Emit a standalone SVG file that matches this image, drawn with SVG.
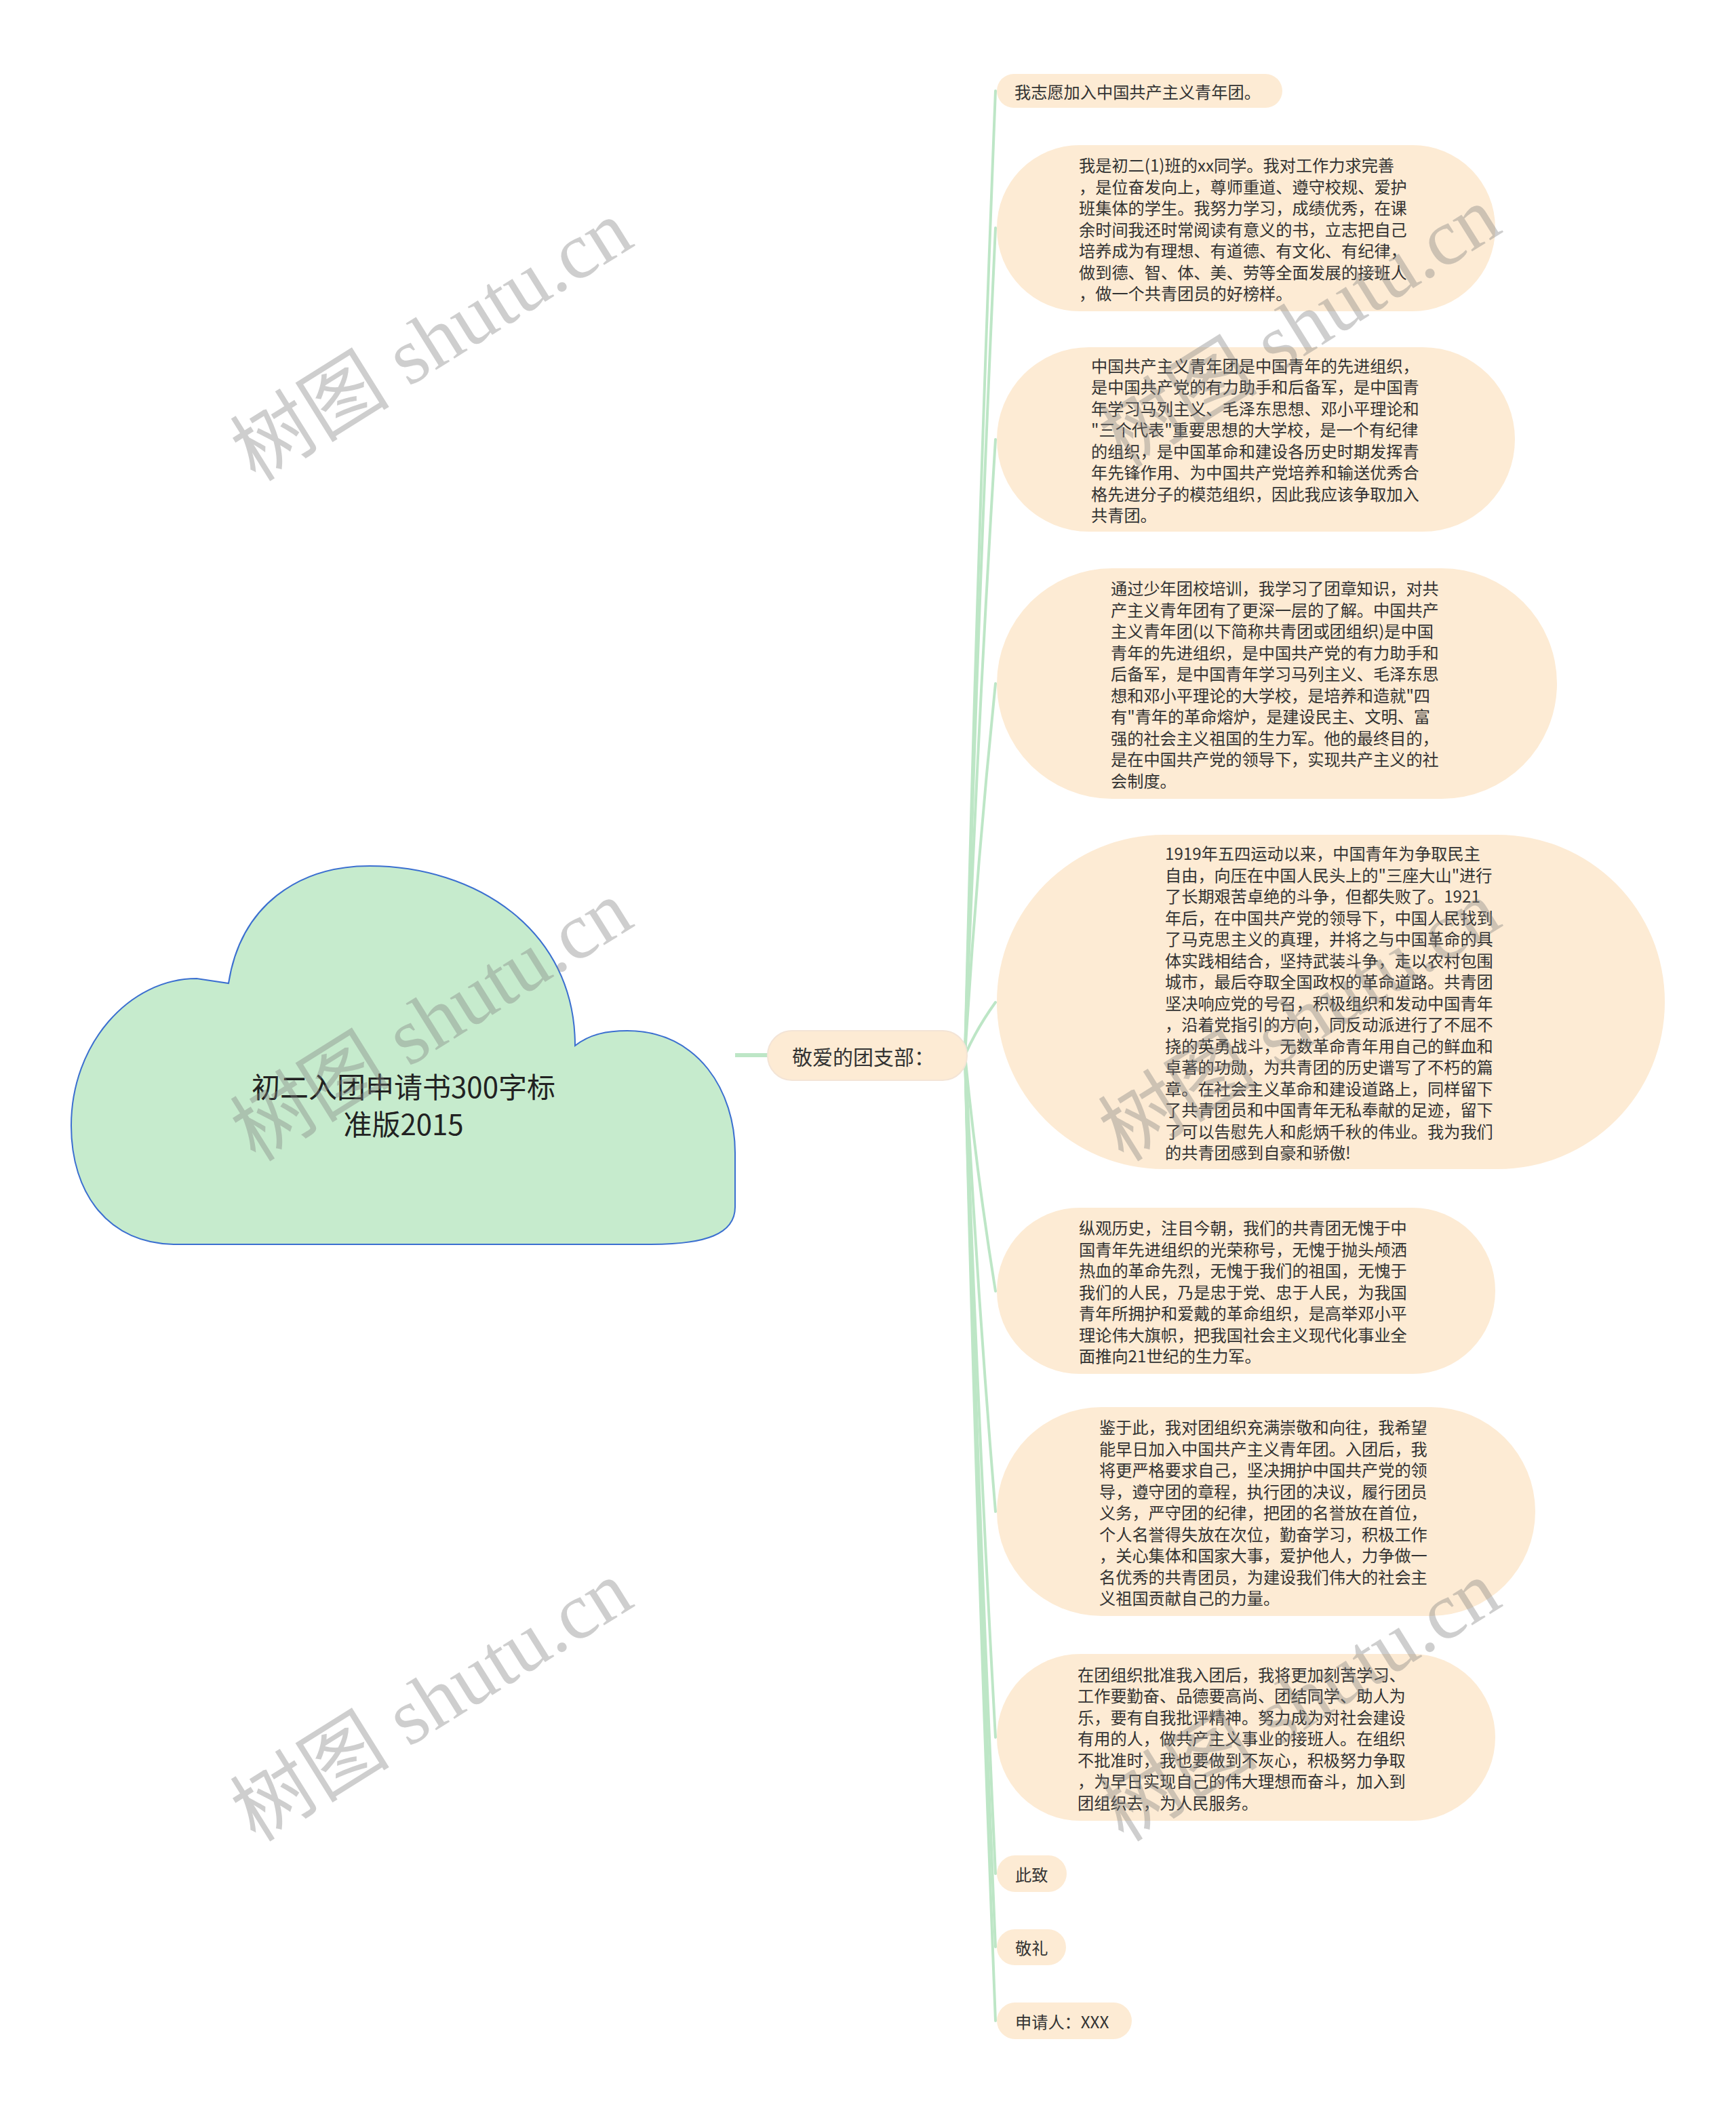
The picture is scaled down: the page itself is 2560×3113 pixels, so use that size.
<svg xmlns="http://www.w3.org/2000/svg" width="2560" height="3113" viewBox="0 0 2560 3113">
<style>
.n{fill:#fdebd4}
.t{font-family:"Noto Sans CJK SC","Noto Sans",sans-serif;font-size:24.2px;fill:#333}
.c{fill:none;stroke:#bde6c6;stroke-width:4;stroke-linecap:round}
.wm{font-family:"Liberation Serif","Noto Sans CJK SC",serif;font-size:118px;fill:#808080;opacity:0.38}
</style>
<rect width="2560" height="3113" fill="#fff"/>
<g id="connectors">
<path d="M1084 1556 L1132 1556" stroke="#bde6c6" stroke-width="6" fill="none"/>
<path class="c" d="M1423 1556 Q1440 845 1468 134"/>
<path class="c" d="M1423 1556 Q1440 946 1468 336"/>
<path class="c" d="M1423 1556 Q1440 1102 1468 648"/>
<path class="c" d="M1423 1556 Q1440 1282 1468 1008"/>
<path class="c" d="M1423 1556 Q1440 1517 1468 1478"/>
<path class="c" d="M1423 1556 Q1440 1730 1468 1904"/>
<path class="c" d="M1423 1556 Q1440 1892 1468 2229"/>
<path class="c" d="M1423 1556 Q1440 2059 1468 2562"/>
<path class="c" d="M1423 1556 Q1440 2160 1468 2763"/>
<path class="c" d="M1423 1556 Q1440 2214 1468 2871"/>
<path class="c" d="M1423 1556 Q1440 2268 1468 2980"/>
</g>
<g id="root">
<path d="M260 1835 C160 1835 105 1760 105 1660 C105 1540 190 1443 290 1443 L337 1450 C355 1335 440 1277 545 1277 C700 1277 848 1370 848 1542 C870 1525 895 1520 925 1520 C1030 1520 1084 1610 1084 1700 L1084 1780 C1084 1820 1040 1835 960 1835 Z" fill="#c6ebcd" stroke="#3b6fd0" stroke-width="2"/>
<text x="595" y="1600" text-anchor="middle" dominant-baseline="central" font-family="Noto Sans CJK SC,sans-serif" font-size="42" fill="#222">初二入团申请书300字标</text>
<text x="595" y="1655" text-anchor="middle" dominant-baseline="central" font-family="Noto Sans CJK SC,sans-serif" font-size="42" fill="#222">准版2015</text>
</g>
<g id="hub">
<rect class="n" x="1132" y="1520" width="294" height="73" rx="36" stroke="#f3e4d6" stroke-width="2"/>
<text x="1168" y="1557" dominant-baseline="central" font-family="Noto Sans CJK SC,sans-serif" font-size="30" fill="#333">敬爱的团支部：</text>
</g>
<g id="n1">
<rect class="n" x="1470" y="109" width="421" height="50" rx="25"/>
<text class="t" x="1496" y="134" dominant-baseline="central">我志愿加入中国共产主义青年团。</text>
</g>
<g id="n2">
<rect class="n" x="1470" y="214" width="735" height="245" rx="122"/>
<text class="t" dominant-baseline="central">
<tspan x="1591" y="242">我是初二(1)班的xx同学。我对工作力求完善</tspan>
<tspan x="1591" y="273.5">，是位奋发向上，尊师重道、遵守校规、爱护</tspan>
<tspan x="1591" y="305">班集体的学生。我努力学习，成绩优秀，在课</tspan>
<tspan x="1591" y="336.5">余时间我还时常阅读有意义的书，立志把自己</tspan>
<tspan x="1591" y="368">培养成为有理想、有道德、有文化、有纪律，</tspan>
<tspan x="1591" y="399.5">做到德、智、体、美、劳等全面发展的接班人</tspan>
<tspan x="1591" y="431">，做一个共青团员的好榜样。</tspan>
</text>
</g>
<g id="n3">
<rect class="n" x="1470" y="512" width="764" height="272" rx="136"/>
<text class="t" dominant-baseline="central">
<tspan x="1609" y="537.75">中国共产主义青年团是中国青年的先进组织，</tspan>
<tspan x="1609" y="569.25">是中国共产党的有力助手和后备军，是中国青</tspan>
<tspan x="1609" y="600.75">年学习马列主义、毛泽东思想、邓小平理论和</tspan>
<tspan x="1609" y="632.25">"三个代表"重要思想的大学校，是一个有纪律</tspan>
<tspan x="1609" y="663.75">的组织，是中国革命和建设各历史时期发挥青</tspan>
<tspan x="1609" y="695.25">年先锋作用、为中国共产党培养和输送优秀合</tspan>
<tspan x="1609" y="726.75">格先进分子的模范组织，因此我应该争取加入</tspan>
<tspan x="1609" y="758.25">共青团。</tspan>
</text>
</g>
<g id="n4">
<rect class="n" x="1470" y="838" width="826" height="340" rx="170"/>
<text class="t" dominant-baseline="central">
<tspan x="1638" y="866.25">通过少年团校培训，我学习了团章知识，对共</tspan>
<tspan x="1638" y="897.75">产主义青年团有了更深一层的了解。中国共产</tspan>
<tspan x="1638" y="929.25">主义青年团(以下简称共青团或团组织)是中国</tspan>
<tspan x="1638" y="960.75">青年的先进组织，是中国共产党的有力助手和</tspan>
<tspan x="1638" y="992.25">后备军，是中国青年学习马列主义、毛泽东思</tspan>
<tspan x="1638" y="1023.75">想和邓小平理论的大学校，是培养和造就"四</tspan>
<tspan x="1638" y="1055.25">有"青年的革命熔炉，是建设民主、文明、富</tspan>
<tspan x="1638" y="1086.75">强的社会主义祖国的生力军。他的最终目的，</tspan>
<tspan x="1638" y="1118.25">是在中国共产党的领导下，实现共产主义的社</tspan>
<tspan x="1638" y="1149.75">会制度。</tspan>
</text>
</g>
<g id="n5">
<rect class="n" x="1470" y="1231" width="985" height="493" rx="246"/>
<text class="t" dominant-baseline="central">
<tspan x="1718" y="1257">1919年五四运动以来，中国青年为争取民主</tspan>
<tspan x="1718" y="1288.5">自由，向压在中国人民头上的"三座大山"进行</tspan>
<tspan x="1718" y="1320">了长期艰苦卓绝的斗争，但都失败了。1921</tspan>
<tspan x="1718" y="1351.5">年后，在中国共产党的领导下，中国人民找到</tspan>
<tspan x="1718" y="1383">了马克思主义的真理，并将之与中国革命的具</tspan>
<tspan x="1718" y="1414.5">体实践相结合，坚持武装斗争，走以农村包围</tspan>
<tspan x="1718" y="1446">城市，最后夺取全国政权的革命道路。共青团</tspan>
<tspan x="1718" y="1477.5">坚决响应党的号召，积极组织和发动中国青年</tspan>
<tspan x="1718" y="1509">，沿着党指引的方向，同反动派进行了不屈不</tspan>
<tspan x="1718" y="1540.5">挠的英勇战斗，无数革命青年用自己的鲜血和</tspan>
<tspan x="1718" y="1572">卓著的功勋，为共青团的历史谱写了不朽的篇</tspan>
<tspan x="1718" y="1603.5">章。在社会主义革命和建设道路上，同样留下</tspan>
<tspan x="1718" y="1635">了共青团员和中国青年无私奉献的足迹，留下</tspan>
<tspan x="1718" y="1666.5">了可以告慰先人和彪炳千秋的伟业。我为我们</tspan>
<tspan x="1718" y="1698">的共青团感到自豪和骄傲!</tspan>
</text>
</g>
<g id="n6">
<rect class="n" x="1470" y="1781" width="735" height="245" rx="122"/>
<text class="t" dominant-baseline="central">
<tspan x="1591" y="1809">纵观历史，注目今朝，我们的共青团无愧于中</tspan>
<tspan x="1591" y="1840.5">国青年先进组织的光荣称号，无愧于抛头颅洒</tspan>
<tspan x="1591" y="1872">热血的革命先烈，无愧于我们的祖国，无愧于</tspan>
<tspan x="1591" y="1903.5">我们的人民，乃是忠于党、忠于人民，为我国</tspan>
<tspan x="1591" y="1935">青年所拥护和爱戴的革命组织，是高举邓小平</tspan>
<tspan x="1591" y="1966.5">理论伟大旗帜，把我国社会主义现代化事业全</tspan>
<tspan x="1591" y="1998">面推向21世纪的生力军。</tspan>
</text>
</g>
<g id="n7">
<rect class="n" x="1470" y="2075" width="794" height="308" rx="154"/>
<text class="t" dominant-baseline="central">
<tspan x="1621" y="2103">鉴于此，我对团组织充满崇敬和向往，我希望</tspan>
<tspan x="1621" y="2134.5">能早日加入中国共产主义青年团。入团后，我</tspan>
<tspan x="1621" y="2166">将更严格要求自己，坚决拥护中国共产党的领</tspan>
<tspan x="1621" y="2197.5">导，遵守团的章程，执行团的决议，履行团员</tspan>
<tspan x="1621" y="2229">义务，严守团的纪律，把团的名誉放在首位，</tspan>
<tspan x="1621" y="2260.5">个人名誉得失放在次位，勤奋学习，积极工作</tspan>
<tspan x="1621" y="2292">，关心集体和国家大事，爱护他人，力争做一</tspan>
<tspan x="1621" y="2323.5">名优秀的共青团员，为建设我们伟大的社会主</tspan>
<tspan x="1621" y="2355">义祖国贡献自己的力量。</tspan>
</text>
</g>
<g id="n8">
<rect class="n" x="1470" y="2439" width="735" height="246" rx="123"/>
<text class="t" dominant-baseline="central">
<tspan x="1589" y="2467.5">在团组织批准我入团后，我将更加刻苦学习、</tspan>
<tspan x="1589" y="2499">工作要勤奋、品德要高尚、团结同学、助人为</tspan>
<tspan x="1589" y="2530.5">乐，要有自我批评精神。努力成为对社会建设</tspan>
<tspan x="1589" y="2562">有用的人，做共产主义事业的接班人。在组织</tspan>
<tspan x="1589" y="2593.5">不批准时，我也要做到不灰心，积极努力争取</tspan>
<tspan x="1589" y="2625">，为早日实现自己的伟大理想而奋斗，加入到</tspan>
<tspan x="1589" y="2656.5">团组织去，为人民服务。</tspan>
</text>
</g>
<g id="n9">
<rect class="n" x="1470" y="2736" width="103" height="54" rx="27"/>
<text class="t" x="1497" y="2763" dominant-baseline="central">此致</text>
</g>
<g id="n10">
<rect class="n" x="1470" y="2845" width="102" height="53" rx="26.5"/>
<text class="t" x="1497" y="2871" dominant-baseline="central">敬礼</text>
</g>
<g id="n11">
<rect class="n" x="1470" y="2953" width="199" height="54" rx="27"/>
<text class="t" x="1497" y="2980" dominant-baseline="central">申请人：XXX</text>
</g>
<g id="watermarks">
<text class="wm" x="645" y="540" text-anchor="middle" transform="rotate(-32 645 516)">树图 shutu.cn</text>
<text class="wm" x="645" y="1543" text-anchor="middle" transform="rotate(-32 645 1519)">树图 shutu.cn</text>
<text class="wm" x="645" y="2546" text-anchor="middle" transform="rotate(-32 645 2522)">树图 shutu.cn</text>
<text class="wm" x="1925" y="520" text-anchor="middle" transform="rotate(-32 1925 496)">树图 shutu.cn</text>
<text class="wm" x="1925" y="1543" text-anchor="middle" transform="rotate(-32 1925 1519)">树图 shutu.cn</text>
<text class="wm" x="1925" y="2546" text-anchor="middle" transform="rotate(-32 1925 2522)">树图 shutu.cn</text>
</g>
</svg>
